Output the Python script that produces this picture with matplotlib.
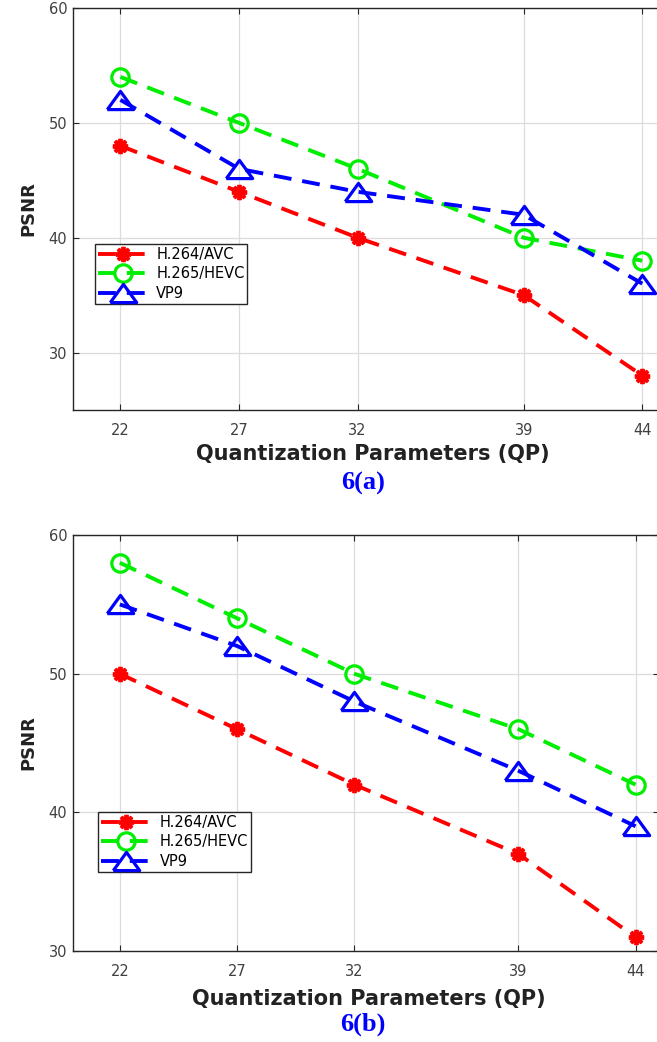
import numpy as np
import matplotlib.pyplot as plt

plt.rcParams['font.family'] = ['DejaVu Sans']

qp = [22, 27, 32, 39, 44]
series_names = ['H.264/AVC', 'H.265/HEVC', 'VP9']

# 6(a)
psnr_a_avc = [48, 44, 40, 35, 28]
psnr_a_hevc = [54, 50, 46, 40, 38]
psnr_a_vp9 = [52, 46, 44, 42, 36]

# 6(b)
psnr_b_avc = [50, 46, 42, 37, 31]
psnr_b_hevc = [58, 54, 50, 46, 42]
psnr_b_vp9 = [55, 52, 48, 43, 39]

# wide triangle like the stretched original
tri = [(-1.45, -1.0), (1.45, -1.0), (0.0, 1.0), (-1.45, -1.0)]

colors = ['#ff0000', '#00ee00', '#0000ff']
markers = [(8, 2, 0), 'o', tri]
msizes = [11, 12.5, 19]
mews = [2.8, 2.3, 2.3]

fig = plt.figure(figsize=(6.57, 10.42), dpi=100)
ax_a = fig.add_axes([0.1111, 0.6065, 0.9026, 0.3858])
ax_b = fig.add_axes([0.1111, 0.0873, 0.892, 0.3992])


def draw(ax, data, ylim, legend_loc, caption, cap_y, xlab_y):
    for vals, c, m, ms, mw, name in zip(data, colors, markers, msizes, mews, series_names):
        ax.plot(qp, vals, linestyle='--', dashes=(4.6, 2.8), color=c, lw=2.8,
                marker=m, ms=ms, mfc='none', mec=c, mew=mw, label=name)
    ax.set_xlim(20, 45)
    ax.set_ylim(*ylim)
    ax.set_xticks(qp)
    ax.set_yticks([30, 40, 50, 60])
    ax.grid(True, color='#dcdcdc', lw=0.9)
    ax.set_axisbelow(True)
    ax.tick_params(direction='in', length=4, labelsize=10.5, colors='#262626',
                   labelcolor='#404040', top=True, right=True)
    ax.tick_params(axis='x', pad=9)
    ax.tick_params(axis='y', pad=4)
    for s in ax.spines.values():
        s.set_color('#262626')
        s.set_linewidth(1.0)
    ax.set_ylabel('PSNR', fontsize=13, fontweight='bold', color='#222222',
                  labelpad=8)
    ax.set_xlabel('Quantization Parameters (QP)', fontsize=15,
                  fontweight='bold', color='#222222')
    ax.xaxis.set_label_coords(0.505, xlab_y)
    leg = ax.legend(loc='upper left', bbox_to_anchor=legend_loc, fontsize=10.5,
                    handlelength=3.4, handletextpad=0.6, borderpad=0.2,
                    labelspacing=0.3, borderaxespad=0, fancybox=False,
                    framealpha=1)
    leg.get_frame().set_edgecolor('#262626')
    leg.get_frame().set_linewidth(1.0)
    fig.text(0.552, cap_y, caption, color='#0000ff', fontsize=19,
             fontweight='bold', family='Liberation Serif',
             ha='center', va='center')


draw(ax_a, [psnr_a_avc, psnr_a_hevc, psnr_a_vp9], (25, 60),
     (0.037, 0.413), '6(a)', 1 - 483 / 1042, -0.085)
draw(ax_b, [psnr_b_avc, psnr_b_hevc, psnr_b_vp9], (30, 60),
     (0.043, 0.334), '6(b)', 1 - 1024 / 1042, -0.092)

fig.savefig('out.png', dpi=100)
